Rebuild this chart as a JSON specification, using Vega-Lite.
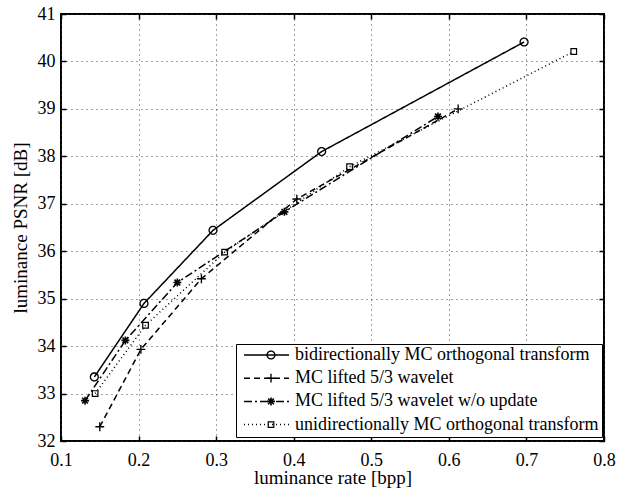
{
  "$schema": "https://vega.github.io/schema/vega-lite/v6.json",
  "width": 543,
  "height": 427,
  "autosize": {"type": "none"},
  "padding": {"left": 61, "top": 14, "right": 14, "bottom": 47},
  "background": "white",
  "config": {
    "font": "Liberation Serif",
    "view": {"stroke": "black", "strokeWidth": 2},
    "axis": {
      "labelFont": "Liberation Serif",
      "titleFont": "Liberation Serif",
      "labelFontSize": 18,
      "titleFontSize": 19,
      "titleFontWeight": "normal",
      "labelColor": "black",
      "titleColor": "black",
      "tickColor": "black",
      "domain": false,
      "grid": true,
      "gridColor": "#444",
      "gridDash": [1, 4],
      "gridWidth": 1,
      "tickSize": -5,
      "tickWidth": 1.5
    },
    "legend": {
      "labelFont": "Liberation Serif",
      "labelFontSize": 18,
      "labelColor": "black",
      "labelLimit": 0
    }
  },
  "data": {
    "values": [
      {"series": "bidirectionally MC orthogonal transform", "rate": 0.143, "psnr": 33.35},
      {"series": "bidirectionally MC orthogonal transform", "rate": 0.207, "psnr": 34.9},
      {"series": "bidirectionally MC orthogonal transform", "rate": 0.296, "psnr": 36.44},
      {"series": "bidirectionally MC orthogonal transform", "rate": 0.436, "psnr": 38.1},
      {"series": "bidirectionally MC orthogonal transform", "rate": 0.697, "psnr": 40.41},
      {"series": "MC lifted 5/3 wavelet", "rate": 0.150, "psnr": 32.3},
      {"series": "MC lifted 5/3 wavelet", "rate": 0.203, "psnr": 33.93},
      {"series": "MC lifted 5/3 wavelet", "rate": 0.281, "psnr": 35.42},
      {"series": "MC lifted 5/3 wavelet", "rate": 0.404, "psnr": 37.1},
      {"series": "MC lifted 5/3 wavelet", "rate": 0.612, "psnr": 39.0},
      {"series": "MC lifted 5/3 wavelet w/o update", "rate": 0.131, "psnr": 32.85},
      {"series": "MC lifted 5/3 wavelet w/o update", "rate": 0.183, "psnr": 34.12},
      {"series": "MC lifted 5/3 wavelet w/o update", "rate": 0.250, "psnr": 35.34},
      {"series": "MC lifted 5/3 wavelet w/o update", "rate": 0.388, "psnr": 36.83},
      {"series": "MC lifted 5/3 wavelet w/o update", "rate": 0.586, "psnr": 38.84},
      {"series": "unidirectionally MC orthogonal transform", "rate": 0.144, "psnr": 33.0},
      {"series": "unidirectionally MC orthogonal transform", "rate": 0.209, "psnr": 34.44},
      {"series": "unidirectionally MC orthogonal transform", "rate": 0.311, "psnr": 35.98},
      {"series": "unidirectionally MC orthogonal transform", "rate": 0.472, "psnr": 37.78},
      {"series": "unidirectionally MC orthogonal transform", "rate": 0.761, "psnr": 40.21}
    ]
  },
  "layer": [
    {
      "mark": {"type": "line", "color": "black", "strokeWidth": 1.5},
      "encoding": {
        "x": {
          "field": "rate", "type": "quantitative",
          "scale": {"domain": [0.1, 0.8], "nice": false, "zero": false},
          "axis": {"orient": "bottom", "values": [0.1, 0.2, 0.3, 0.4, 0.5, 0.6, 0.7, 0.8], "format": ".1f", "title": "luminance rate [bpp]", "labelPadding": 15, "titlePadding": -1, "labelFlush": false}
        },
        "y": {
          "field": "psnr", "type": "quantitative",
          "scale": {"domain": [32, 41], "nice": false, "zero": false},
          "axis": {"orient": "left", "values": [32, 33, 34, 35, 36, 37, 38, 39, 40, 41], "title": "luminance PSNR [dB]", "labelPadding": 11, "titlePadding": 7, "labelFlush": false}
        },
        "strokeDash": {
          "field": "series", "type": "nominal",
          "sort": ["bidirectionally MC orthogonal transform", "MC lifted 5/3 wavelet", "MC lifted 5/3 wavelet w/o update", "unidirectionally MC orthogonal transform"],
          "scale": {"range": [[1, 0], [6, 4], [8, 3, 2, 3], [1, 3]]},
          "legend": {
            "title": null,
            "orient": "none",
            "legendX": 175,
            "legendY": 330,
            "padding": 3,
            "strokeColor": "black",
            "fillColor": "white",
            "symbolType": "stroke",
            "symbolSize": 2025,
            "symbolOffset": 4,
            "symbolStrokeWidth": 1.5,
            "symbolStrokeColor": "black",
            "clipHeight": 16,
            "labelOffset": 5,
            "rowPadding": 5.2,
            "zindex": 1
          }
        }
      }
    },
    {
      "mark": {"type": "point", "filled": true, "color": "black", "strokeWidth": 0, "size": 64, "opacity": 1},
      "encoding": {
        "x": {
          "field": "rate", "type": "quantitative",
          "axis": {"orient": "top", "values": [0.1, 0.2, 0.3, 0.4, 0.5, 0.6, 0.7, 0.8], "labels": false, "grid": false, "title": null}
        },
        "y": {
          "field": "psnr", "type": "quantitative",
          "axis": {"orient": "right", "values": [32, 33, 34, 35, 36, 37, 38, 39, 40, 41], "labels": false, "grid": false, "title": null}
        },
        "shape": {
          "field": "series", "type": "nominal",
          "scale": {
            "domain": ["bidirectionally MC orthogonal transform", "MC lifted 5/3 wavelet", "MC lifted 5/3 wavelet w/o update", "unidirectionally MC orthogonal transform"],
            "range": [
              "M-1.15,0A1.15,1.15,0,1,1,1.15,0A1.15,1.15,0,1,1,-1.15,0ZM-0.83,0A0.83,0.83,0,1,0,0.83,0A0.83,0.83,0,1,0,-0.83,0Z",
              "M-1.1,-0.17H1.1V0.17H-1.1ZM-0.17,-1.1H0.17V1.1H-0.17Z",
              "M-1,-0.2H1V0.2H-1ZM-0.2,-1H0.2V1H-0.2ZM-0.579,-0.861L0.861,0.579L0.579,0.861L-0.861,-0.579ZM-0.861,0.579L0.579,-0.861L0.861,-0.579L-0.579,0.861Z",
              "M-0.85,-0.85H0.85V0.85H-0.85ZM-0.55,-0.55V0.55H0.55V-0.55Z"
            ]
          },
          "legend": {
            "title": null,
            "orient": "none",
            "legendX": 194,
            "legendY": 330,
            "padding": 3,
            "symbolSize": 64,
            "symbolOffset": 4,
            "symbolStrokeWidth": 0,
            "symbolFillColor": "black",
            "symbolOpacity": 1,
            "clipHeight": 16,
            "labelOffset": 5,
            "labelExpr": "''",
            "labelOpacity": 0,
            "rowPadding": 5.2,
            "zindex": 2
          }
        }
      }
    }
  ],
  "resolve": {"axis": {"x": "independent", "y": "independent"}}
}
